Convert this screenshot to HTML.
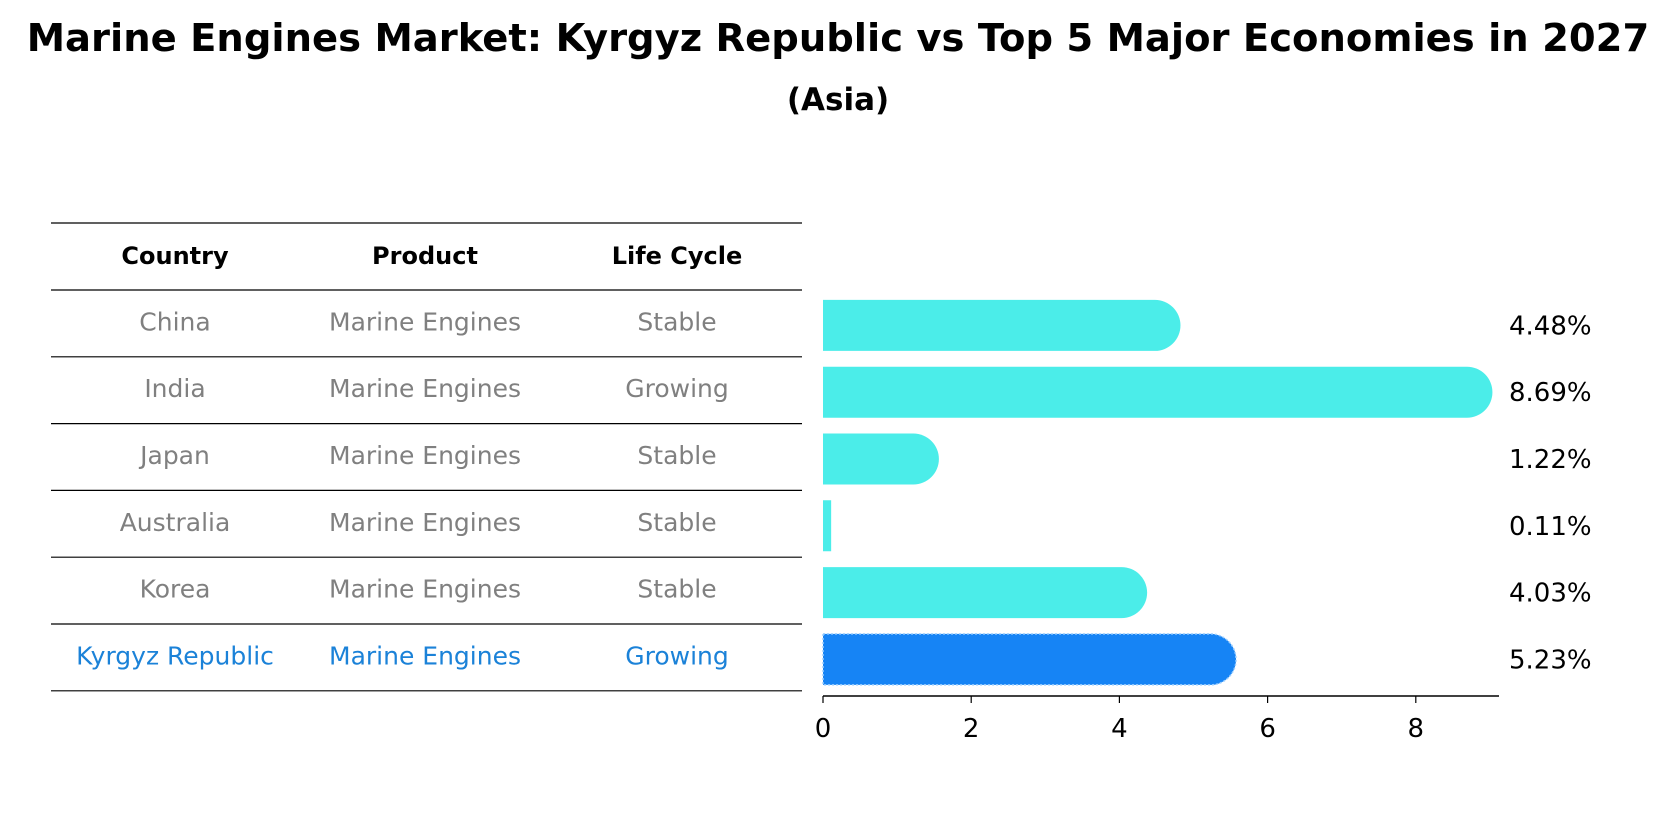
<!DOCTYPE html>
<html><head><meta charset="utf-8"><style>
html,body{margin:0;padding:0;background:#fff;}
svg{display:block;font-family:"DejaVu Sans","Liberation Sans",sans-serif;}
</style></head><body>
<svg id="chart" width="1676" height="823" viewBox="0 0 1676 823">
<text x="838" y="51" text-anchor="middle" font-size="38.5" font-weight="bold">Marine Engines Market: Kyrgyz Republic vs Top 5 Major Economies in 2027</text>
<text x="838" y="110" text-anchor="middle" font-size="31" font-weight="bold">(Asia)</text>
<g id="table"></g>
<g id="bars"></g>
</svg>
<script>
const countries=["China","India","Japan","Australia","Korea","Kyrgyz Republic"];
const products=["Marine Engines","Marine Engines","Marine Engines","Marine Engines","Marine Engines","Marine Engines"];
const lifeCycles=["Stable","Growing","Stable","Stable","Stable","Growing"];
const values=[4.48,8.69,1.22,0.11,4.03,5.23];
const xTicks=[0,2,4,6,8];
const NS="http://www.w3.org/2000/svg";
function mk(tag,attrs,parent){const e=document.createElementNS(NS,tag);for(const k in attrs)e.setAttribute(k,attrs[k]);parent.appendChild(e);return e;}
const table=document.getElementById('table');
const bars=document.getElementById('bars');
const x=v=>823+v*74.1;
const lineYs=[223,290];
for(let i=0;i<countries.length;i++)lineYs.push(290+(i+1)*66.8);
lineYs.forEach((y,i)=>{
  const l=mk('line',{x1:51,x2:802,y1:y,y2:y,stroke:'#000','stroke-width':1.2},table);
  
  
});
const colX=[175,425,677];
["Country","Product","Life Cycle"].forEach((h,j)=>{
  const t=mk('text',{x:colX[j],y:264,'text-anchor':'middle','font-size':24,'font-weight':'bold'},table);
  t.textContent=h;
  
  
});
countries.forEach((c,i)=>{
  const hl=i===countries.length-1;
  const col=hl?'#1B82D8':'#808080';
  const cy=290+(i+0.5)*66.8+7;
  [c,products[i],lifeCycles[i]].forEach((s,j)=>{
    const t=mk('text',{x:colX[j],y:cy,'text-anchor':'middle','font-size':25,fill:col},table);
    t.textContent=s;
    
    
  });
  const h=51, yc=290+(i+0.5)*66.8+2, y0=yc-h/2;
  const fill=hl?'#1684F5':'#4BEDE9';
  const w=x(values[i])-x(0);
  let d;
  if(values[i]>0.5){
    const r=h/2;
    d=`M${x(0)},${y0} H${x(0)+w} A${r},${r} 0 0 1 ${x(0)+w},${y0+h} H${x(0)} Z`;
  } else d=`M${x(0)},${y0} H${x(0)+w} V${y0+h} H${x(0)} Z`;
  const b=mk('path',{d:d,fill:fill},bars);
  if(hl){b.setAttribute('stroke','#9fd0ff');b.setAttribute('stroke-dasharray','2,2');b.setAttribute('stroke-width','1.5');}
  
  
  const t=mk('text',{x:1509,y:yc+9,'font-size':26},bars);
  t.textContent=values[i].toFixed(2)+'%';
  
  
});
const ax=mk('line',{x1:x(0),x2:1499,y1:696,y2:696,stroke:'#000','stroke-width':1.5},bars);


xTicks.forEach(v=>{
  const tk=mk('line',{x1:x(v),x2:x(v),y1:696,y2:703,stroke:'#000','stroke-width':1.2},bars);
  
  
  const t=mk('text',{x:x(v),y:737,'text-anchor':'middle','font-size':26},bars);
  t.textContent=v;
  
  
});
</script>
</body></html>
